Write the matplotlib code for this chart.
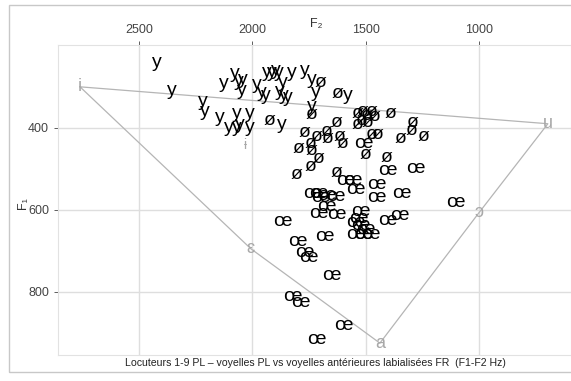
import matplotlib.pyplot as plt
from matplotlib.patches import Rectangle

plt.rcParams['font.family'] = ['Liberation Sans', 'DejaVu Sans']

# voyelles PL : y
y_f2 = [2420, 2355, 2220, 2210, 2145, 2105, 2070, 2070, 2055, 2010, 2010,
        2125, 2075, 2060, 2040, 2045, 1980, 1957, 1940, 1935, 1913, 1895,
        1882, 1865, 1825, 1768, 1737, 1878, 1860, 1843, 1720, 1737, 1870,
        1578]
y_f1 = [240, 310, 335, 360, 375, 400, 398, 365, 393, 364, 400,
        293, 268, 288, 283, 310, 295, 315, 320, 266, 266, 259,
        266, 290, 266, 259, 281, 312, 320, 325, 315, 349, 393,
        320]

# ø
oe_f2 = [1700, 1622, 1740, 1922, 1627, 1534, 1512, 1494, 1476, 1459, 1516,
         1490, 1534, 1388, 1291, 1296, 1243, 1344, 1768, 1715, 1671, 1666,
         1613, 1600, 1472, 1446, 1794, 1741, 1737, 1499, 1710, 1741, 1803,
         1406, 1627]
oe_f1 = [290, 317, 368, 383, 386, 364, 359, 371, 361, 373, 381,
         386, 393, 366, 388, 407, 422, 427, 412, 420, 410, 425,
         422, 437, 417, 417, 451, 437, 456, 466, 476, 495, 515,
         473, 510]

# œ
oel_f2 = [1512, 1402, 1282, 1591, 1560, 1547, 1454, 1454, 1344, 1737, 1710,
          1671, 1635, 1701, 1671, 1710, 1627, 1521, 1534, 1547, 1521, 1499,
          1547, 1512, 1481, 1406, 1349, 1684, 1869, 1803, 1768, 1754, 1649,
          1825, 1790, 1596, 1719, 1106]
oel_f1 = [439, 505, 498, 529, 529, 551, 539, 571, 561, 559, 559,
          564, 568, 571, 593, 610, 612, 605, 620, 632, 639, 649,
          661, 661, 661, 625, 615, 664, 629, 678, 705, 717, 759,
          812, 825, 881, 917, 583]

# triangle vocalique FR
ref_labels = ['i', 'ɛ', 'a', 'ɔ', 'u']
ref_f2 = [2760, 2006, 1437, 1000, 696]
ref_f1 = [300, 695, 925, 607, 390]
extra_label = 'ɨ'
extra_f2 = 2028
extra_f1 = 442

fig = plt.figure(figsize=(5.71, 3.81), dpi=100)
fig.patches.append(Rectangle((0.0158, 0.0236), 1.0, 0.9633, transform=fig.transFigure,
                             fill=False, edgecolor='#c8c8c8', linewidth=1))
ax = fig.add_axes([0.1016, 0.0682, 0.8984, 0.8137])

ax.set_xlim(2857, 594)
ax.set_ylim(954, 198)
ax.xaxis.tick_top()
ax.set_xticks([2500, 2000, 1500, 1000])
ax.set_yticks([400, 600, 800])
ax.tick_params(labelsize=9, colors='#444444', length=3, width=0.6)
ax.grid(True, color='#dedede', linewidth=1)
ax.set_axisbelow(True)
for s in ax.spines.values():
    s.set_color('#e2e2e2')

ax.plot(ref_f2 + ref_f2[:1], ref_f1 + ref_f1[:1], color='#b5b5b5', linewidth=0.9)
for lab, x, y in zip(ref_labels, ref_f2, ref_f1):
    ax.text(x, y, lab, color='#a8a8a8', fontsize=13, ha='center', va='center')
ax.text(extra_f2, extra_f1, extra_label, color='#a8a8a8', fontsize=10, ha='center', va='center')

for x, y in zip(y_f2, y_f1):
    ax.text(x, y, 'y', fontsize=14, ha='center', va='center')
for x, y in zip(oe_f2, oe_f1):
    ax.text(x, y, 'ø', fontsize=14, ha='center', va='center')
for x, y in zip(oel_f2, oel_f1):
    ax.text(x, y, 'œ', fontsize=14, ha='center', va='center')

fig.text(0.553, 0.937, 'F₂', fontsize=9, color='#333333', ha='center', va='center')
fig.text(0.04, 0.467, 'F₁', fontsize=9, color='#333333', ha='center', va='center', rotation=90)
fig.text(0.553, 0.047, 'Locuteurs 1-9 PL – voyelles PL vs voyelles antérieures labialisées FR  (F1-F2 Hz)',
         fontsize=7.6, color='#222222', ha='center', va='center')

fig.savefig('out.png', dpi=100)
plt.close()
